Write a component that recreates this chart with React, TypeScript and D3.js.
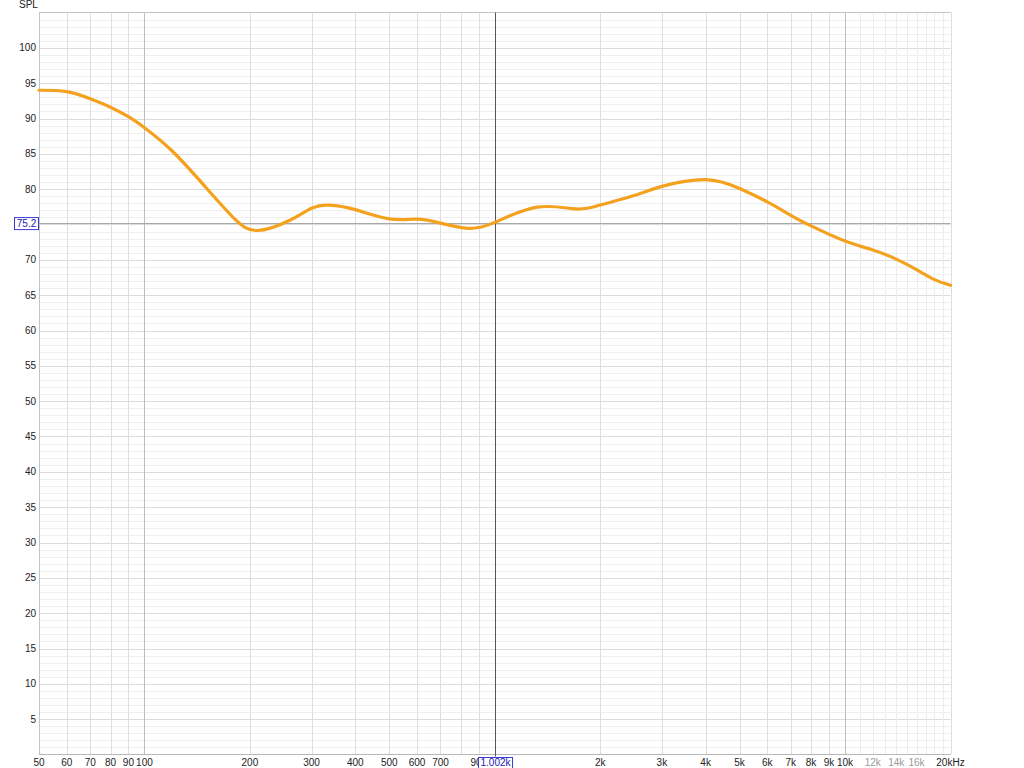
import React from 'react';
import * as d3 from 'd3';

// SPL curve (Hz, dB)
const freqs = [50, 60, 70, 80, 90, 100, 120, 150, 180, 210, 260, 300, 338, 400, 500, 600, 700, 840, 1000, 1320, 1700, 2000, 2500, 3000, 4000, 5000, 6000, 7000, 8000, 10000, 12000, 14000, 16000, 18000, 20000];
const spl = [94.0, 93.8, 92.8, 91.6, 90.25, 88.7, 85.4, 80.2, 75.9, 74.15, 75.6, 77.3, 77.75, 77.1, 75.8, 75.75, 75.2, 74.45, 75.3, 77.45, 77.2, 77.75, 79.1, 80.4, 81.35, 80.1, 78.2, 76.3, 74.8, 72.65, 71.4, 70.1, 68.6, 67.2, 66.4];

const yTicks = [5, 10, 15, 20, 25, 30, 35, 40, 45, 50, 55, 60, 65, 70, 75, 80, 85, 90, 95, 100];
const xLabels = ['50', '60', '70', '80', '90', '100', '200', '300', '400', '500', '600', '700', '900', '2k', '3k', '4k', '5k', '6k', '7k', '8k', '9k', '10k', '12k', '14k', '16k', '20kHz'];
const xLabelFreqs = [50, 60, 70, 80, 90, 100, 200, 300, 400, 500, 600, 700, 900, 2000, 3000, 4000, 5000, 6000, 7000, 8000, 9000, 10000, 12000, 14000, 16000, 20000];
const grayLabels = ['12k', '14k', '16k'];

const cursorFreq = 1002;
const cursorSpl = 75.2;

const W = 1024;
const H = 768;
const left = 39;
const right = 950.5;
const top = 12.5;
const bottom = 754.5;

const App: React.FC = () => {
  const x = d3.scaleLog().domain([50, 20000]).range([left, right]);
  const y = d3.scaleLinear().domain([0, 105]).range([bottom, top]);

  // vertical grid lines
  const vLines: { f: number; kind: string }[] = [];
  [10, 100, 1000, 10000].forEach(dec => {
    for (let m = 1; m <= 9; m++) {
      const f = dec * m;
      if (f < 50 || f > 20000) continue;
      vLines.push({ f, kind: m === 1 ? 'decade' : 'minor' });
    }
  });
  for (let k = 11; k <= 19; k++) vLines.push({ f: k * 1000, kind: 'fine' });
  vLines.push({ f: 20000, kind: 'minor' });

  const hLines = d3.range(1, 105);

  const line = d3.line<number>()
    .x((_, i) => x(freqs[i]))
    .y(d => y(d))
    .curve(d3.curveNatural);

  const font = '"Liberation Sans", Arial, sans-serif';
  const cx = x(cursorFreq);
  const cy = y(cursorSpl);

  // the cursor readout box covers the tick label under it
  const shownY = yTicks.filter(v => Math.abs(y(v) - cy) > 8);

  return (
    <svg width={W} height={H} style={{ position: 'absolute', left: 0, top: 0, background: '#fff' }} fontFamily={font}>
      <rect x={0} y={0} width={W} height={H} fill="#fff" />
      {hLines.map(v => (
        <line key={'h' + v} x1={left} x2={right} y1={Math.round(y(v)) + 0.5} y2={Math.round(y(v)) + 0.5}
          stroke={v % 5 === 0 ? '#dcdcdc' : '#efefef'} strokeWidth={1} />
      ))}
      {vLines.map(d => (
        <line key={'v' + d.f} x1={Math.round(x(d.f)) + 0.5} x2={Math.round(x(d.f)) + 0.5} y1={top} y2={bottom}
          stroke={d.kind === 'decade' ? '#bdbdbd' : d.kind === 'minor' ? '#dedede' : '#ececec'} strokeWidth={1} />
      ))}
      <line x1={left} x2={right} y1={top} y2={top} stroke="#c4c4c4" />
      <line x1={left} x2={right} y1={bottom} y2={bottom} stroke="#b8b8b8" />
      <line x1={left + 0.5} x2={left + 0.5} y1={top} y2={bottom} stroke="#c4c4c4" />

      {/* cursor */}
      <line x1={left} x2={right} y1={Math.round(cy) + 0.5} y2={Math.round(cy) + 0.5} stroke="#a8a8a8" />
      <line x1={Math.round(cx) + 0.5} x2={Math.round(cx) + 0.5} y1={top} y2={bottom + 2} stroke="#555" />

      <path d={line(spl) || ''} fill="none" stroke="#f4a11e" strokeWidth={3.2} strokeLinejoin="round" strokeLinecap="round" />

      {shownY.map(v => (
        <text key={'yt' + v} x={left - 3} y={y(v)} dy="0.35em" textAnchor="end" fontSize={10} fill="#222">{v}</text>
      ))}
      <text x={19} y={8} fontSize={10} fill="#222">SPL</text>

      {xLabels.map((t, i) => (
        <text key={'xt' + t} x={x(xLabelFreqs[i])} y={766} textAnchor="middle"
          fontSize={10} fill={grayLabels.includes(t) ? '#9a9a9a' : '#222'}>{t}</text>
      ))}

      {/* cursor readouts */}
      <rect x={cx - 16.5} y={757.5} width={34} height={11} fill="#fff" stroke="#3a3ad0" />
      <text x={cx + 0.5} y={766} textAnchor="middle" fontSize={10} fill="#2222b8">1.002k</text>
      <rect x={14.5} y={cy - 5.5} width={24} height={12} fill="#fff" stroke="#3a3ad0" />
      <text x={26.5} y={cy} dy="0.38em" textAnchor="middle" fontSize={10} fill="#2222b8">{cursorSpl}</text>
    </svg>
  );
};

export default App;
